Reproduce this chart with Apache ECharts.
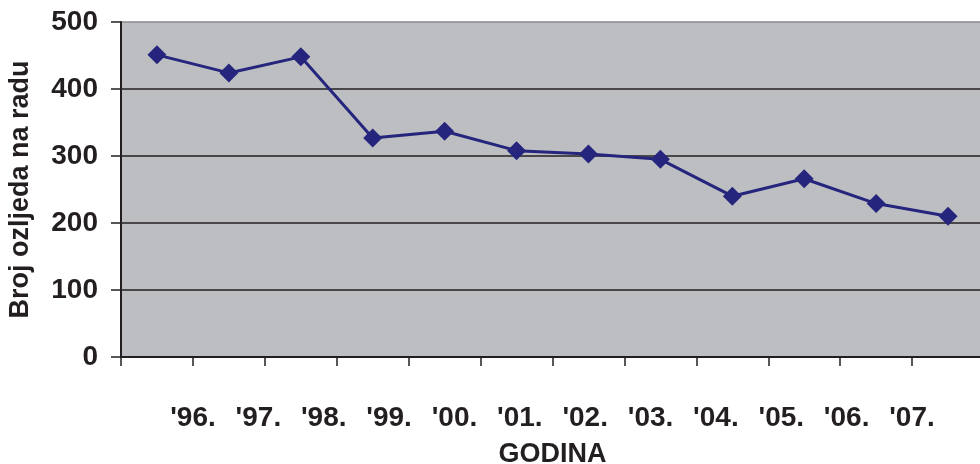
<!DOCTYPE html>
<html>
<head>
<meta charset="utf-8">
<script src="https://cdn.jsdelivr.net/npm/echarts@6/dist/echarts.min.js"></script>
<style>
html,body{margin:0;padding:0;background:#fff;}
#c{width:980px;height:464px;}
</style>
</head>
<body>
<div id="c"></div>
<script>
var years = ["'96.", "'97.", "'98.", "'99.", "'00.", "'01.", "'02.", "'03.", "'04.", "'05.", "'06.", "'07."];
var injuries = [451, 424, 448, 327, 337, 308, 303, 295, 240, 266, 229, 210];
var yTicks = [0, 100, 200, 300, 400, 500];

var FONT = '"Liberation Sans", Arial, sans-serif';
var chart = echarts.init(document.getElementById('c'));
chart.setOption({
  animation: false,
  backgroundColor: '#ffffff',
  grid: [
    {left: 121, top: 22, width: 863, bottom: 107, show: true, backgroundColor: '#bdbec2', borderWidth: 0, containLabel: false, outerBoundsMode: 'none'},
    {left: 193, right: 68, top: 22, bottom: 107, show: false, containLabel: false, outerBoundsMode: 'none'}
  ],
  xAxis: [
    {
      type: 'category', gridIndex: 0, data: years, boundaryGap: true,
      name: 'GODINA', nameLocation: 'middle', nameGap: 84,
      nameTextStyle: {fontFamily: FONT, fontWeight: 'bold', fontSize: 27, color: '#231f20'},
      axisLine: {show: true, lineStyle: {color: '#231f20', width: 2}},
      axisTick: {show: true, length: 9, alignWithLabel: false, lineStyle: {color: '#231f20', width: 1.5}},
      axisLabel: {show: false},
      splitLine: {show: false}
    },
    {
      type: 'category', gridIndex: 1, data: years, boundaryGap: false,
      axisLine: {show: false}, axisTick: {show: false},
      axisLabel: {show: true, margin: 47, fontFamily: FONT, fontWeight: 'bold', fontSize: 28, color: '#231f20'},
      splitLine: {show: false}
    }
  ],
  yAxis: [
    {
      type: 'value', gridIndex: 0, min: yTicks[0], max: yTicks[yTicks.length - 1], interval: 100,
      name: 'Broj ozljeda na radu', nameLocation: 'middle', nameGap: 87, nameRotate: 90,
      nameTextStyle: {fontFamily: FONT, fontWeight: 'bold', fontSize: 27, color: '#231f20'},
      axisLine: {show: true, lineStyle: {color: '#231f20', width: 2}},
      axisTick: {show: true, length: 10, lineStyle: {color: '#231f20', width: 1.5}},
      axisLabel: {margin: 23, fontFamily: FONT, fontWeight: 'bold', fontSize: 28, color: '#231f20'},
      splitLine: {show: true, lineStyle: {color: ['#231f20', '#231f20', '#231f20', '#231f20', '#231f20', '#8a8a8c'], width: 1.5}}
    },
    {
      type: 'value', gridIndex: 1, show: false, min: 0, max: 500
    }
  ],
  series: [{
    type: 'line', xAxisIndex: 0, yAxisIndex: 0, data: injuries,
    symbol: 'diamond', symbolSize: 19, showSymbol: true,
    lineStyle: {color: '#25257d', width: 3},
    itemStyle: {color: '#25257d'}
  }]
});
</script>
</body>
</html>
